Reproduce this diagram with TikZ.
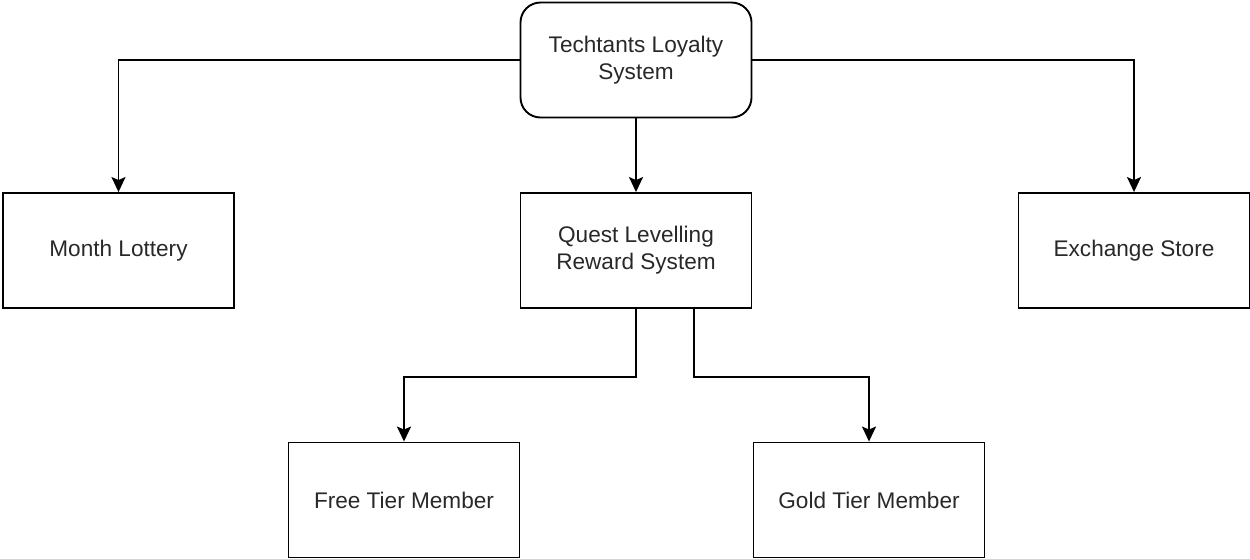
\documentclass[tikz,border=0pt]{standalone}
\usepackage{fontspec}
\setmainfont{Liberation Sans}
\usetikzlibrary{arrows.meta}
\definecolor{txt}{RGB}{40,40,40}
\begin{document}
\begin{tikzpicture}[x=1pt,y=-1pt,
  box/.style={draw=black,line width=1.9pt,minimum width=231pt,minimum height=115pt,
    inner sep=0pt,align=center,text=txt,font=\fontsize{22.6}{27}\selectfont},
  rbox/.style={box,rounded corners=20pt},
  conn/.style={draw=black,line width=1.9pt,-{Stealth[length=15pt,width=14pt,inset=3pt]}}]
\useasboundingbox (0,0) rectangle (1250,558);
\node[rbox] (top) at (636,60) {Techtants Loyalty\\System};
\node[box] (month) at (118.5,250.5) {Month Lottery};
\node[box] (quest) at (636,250.5) {Quest Levelling\\Reward System};
\node[box] (exch) at (1134,250.5) {Exchange Store};
\node[box] (free) at (404,500) {Free Tier Member};
\node[box] (gold) at (869,500) {Gold Tier Member};
\coordinate (qr) at ([xshift=58pt]quest.south);
\draw[conn] (top.west) -| (month.north);
\draw[conn] (top.south) -- (quest.north);
\draw[conn] (top.east) -| (exch.north);
\draw[conn] (quest.south) -- ++(0,68) -| (free.north);
\draw[conn] (qr) -- ++(0,68) -| (gold.north);
\end{tikzpicture}
\end{document}
